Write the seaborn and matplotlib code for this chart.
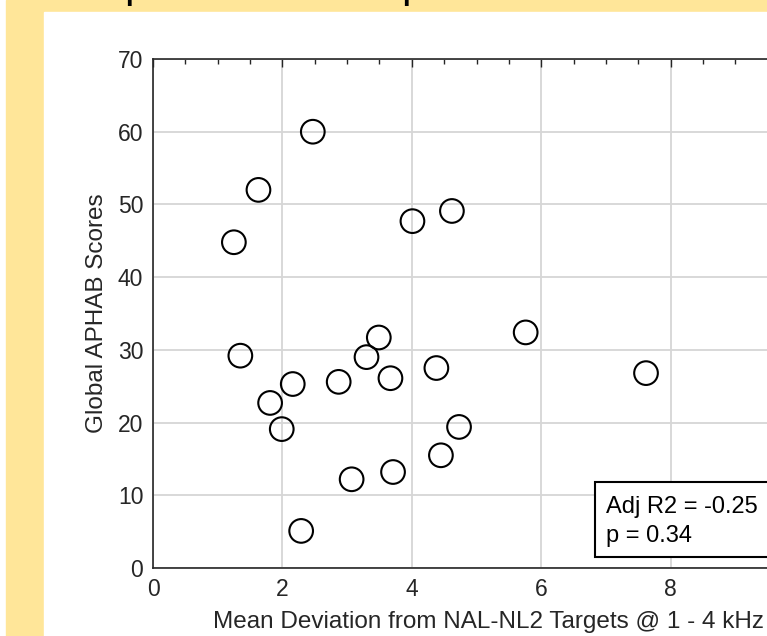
import matplotlib
matplotlib.use("Agg")
import matplotlib.pyplot as plt
import seaborn as sns
import pandas as pd
from matplotlib.patches import Rectangle
from matplotlib.ticker import MultipleLocator

# mean deviation from NAL-NL2 targets (dB) and global APHAB scores
deviation = [1.25, 1.63, 2.47, 4.01, 4.62, 1.35, 2.16, 1.81, 1.99, 2.29, 2.87,
             3.07, 3.30, 3.49, 3.67, 3.71, 4.38, 4.73, 4.45, 5.76, 7.62]
aphab = [44.8, 52.0, 60.0, 47.7, 49.1, 29.2, 25.3, 22.7, 19.1, 5.1, 25.6,
         12.2, 29.0, 31.7, 26.1, 13.2, 27.5, 19.4, 15.5, 32.4, 26.8]
x_ticks = [0, 2, 4, 6, 8, 10]
x_ticklabels = ["0", "2", "4", "6", "8", ""]
stats_lines = ["Adj R2 = -0.25", "p = 0.34"]

df = pd.DataFrame({"dev": deviation, "aphab": aphab})

sns.set_theme(style="white")
plt.rcParams["font.family"] = ["Liberation Sans", "DejaVu Sans"]

fig = plt.figure(figsize=(7.67, 6.36), dpi=100)
fig.patch.set_facecolor("white")

# slide background: yellow frame with a white panel
W, H = 767, 636
fig.patches.append(Rectangle((6 / W, 0), 1, 1, transform=fig.transFigure,
                             color="#FFE699", zorder=-2))
fig.patches.append(Rectangle((44 / W, 0), 1, (H - 12) / H, transform=fig.transFigure,
                             color="white", zorder=-1))
# descenders of the cut-off heading
for xp in [125, 402]:
    fig.text(xp / W, 1.0, "p", fontsize=20, fontweight="bold", color="black",
             va="baseline", ha="left")

ax = fig.add_axes([153 / W, (H - 568) / H, 647 / W, 509 / H])
sns.scatterplot(data=df, x="dev", y="aphab", ax=ax, s=290, marker="o",
                facecolor="none", edgecolor="black", linewidth=1.5, zorder=3)

ax.set_xlim(0, 10)
ax.set_ylim(0, 70)
ax.set_xticks(x_ticks)
ax.set_xticklabels(x_ticklabels)
ax.xaxis.set_minor_locator(MultipleLocator(0.5))
ax.yaxis.set_major_locator(MultipleLocator(10))
ax.yaxis.set_minor_locator(MultipleLocator(2))
ax.grid(True, which="major", color="#d6d6d6", linewidth=1.3)
ax.set_axisbelow(True)

dark = "#262626"
for sp in ax.spines.values():
    sp.set_color(dark)
    sp.set_linewidth(1.2)
ax.tick_params(which="both", direction="in", top=True, right=True,
               colors=dark, labelsize=16.5, width=1.0)
ax.tick_params(which="major", length=6, pad=7)
ax.tick_params(which="minor", length=3.5)

ax.set_xlabel("Mean Deviation from NAL-NL2 Targets @ 1 - 4 kHz",
              fontsize=17.5, color=dark)
ax.xaxis.set_label_coords(0.518, -0.084)
ax.set_ylabel("Global APHAB Scores", fontsize=17.5, color=dark, labelpad=7)

# statistics box
ax.add_patch(Rectangle((0.683, 0.022), 0.30, 0.147, transform=ax.transAxes,
                       facecolor="white", edgecolor="black", linewidth=1.5,
                       zorder=4))
ax.text(0.700, 0.108, stats_lines[0], transform=ax.transAxes, fontsize=17,
        color="black", va="baseline", zorder=5)
ax.text(0.700, 0.051, stats_lines[1], transform=ax.transAxes, fontsize=17,
        color="black", va="baseline", zorder=5)

fig.savefig("out.png", dpi=100)
